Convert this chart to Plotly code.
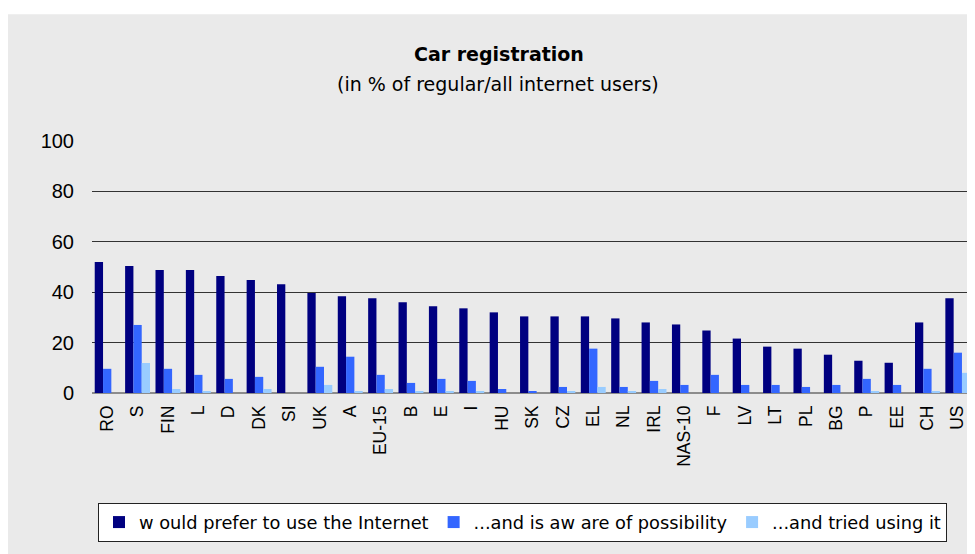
import plotly.graph_objects as go

categories = ["RO", "S", "FIN", "L", "D", "DK", "SI", "UK", "A", "EU-15", "B", "E", "I", "HU", "SK",
              "CZ", "EL", "NL", "IRL", "NAS-10", "F", "LV", "LT", "PL", "BG", "P", "EE", "CH", "US"]
would_prefer = [52, 50.4, 48.8, 48.8, 46.4, 44.8, 43.2, 39.7, 38.4, 37.6, 36, 34.4, 33.6, 32, 30.4,
                30.4, 30.4, 29.6, 28, 27.2, 24.8, 21.6, 18.4, 17.6, 15.2, 12.8, 12, 28, 37.6]
aware = [9.6, 27, 9.6, 7.2, 5.6, 6.4, 0, 10.4, 14.4, 7.2, 4, 5.6, 4.8, 1.6, 0.8,
         2.4, 17.6, 2.4, 4.8, 3.2, 7.2, 3.2, 3.2, 2.4, 3.2, 5.6, 3.2, 9.6, 16]
tried = [0, 11.9, 1.6, 0.8, 0, 1.6, 0, 3.2, 0.8, 1.6, 0.8, 0.8, 0.8, 0, 0,
         0.8, 2.4, 0.8, 1.6, 0, 0, 0, 0, 0, 0, 0.8, 0, 0.8, 8]
series_names = ["w ould prefer to use the Internet", "...and is aw are of possibility", "...and tried using it"]
series_colors = ["#000080", "#3366FF", "#99CCFF"]
y_ticks = [0, 20, 40, 60, 80, 100]

# page is rendered with an 8px body margin; work in page pixels and convert
OFF = 8
PAGE_W, PAGE_H = 975, 554
W, H = PAGE_W - OFF, PAGE_H - OFF
plot_left, plot_right, plot_top, plot_bottom = 92, 973, 141, 393.5  # page pixels
L = plot_left - OFF
R = PAGE_W - plot_right
T = plot_top - OFF
B = PAGE_H - plot_bottom
pw, ph = W - L - R, H - T - B


def px_x(p):
    return (p - OFF - L) / pw


def px_y(p):
    return (H - B - (p - OFF)) / ph


fig = go.Figure()
for name, vals, col in zip(series_names, [would_prefer, aware, tried], series_colors):
    fig.add_trace(go.Bar(x=categories, y=vals, name=name, marker=dict(color=col, line=dict(width=0))))

fig.add_shape(type="rect", xref="paper", yref="paper",
              x0=px_x(0), x1=px_x(PAGE_W + 5), y0=px_y(PAGE_H + 5), y1=px_y(14),
              fillcolor="#EAEAEA", line=dict(width=0), layer="below")

fig.add_annotation(text="<b>Car registration</b>", xref="paper", yref="paper",
                   x=px_x(499), y=px_y(54), xanchor="center", yanchor="middle", showarrow=False,
                   font=dict(family="DejaVu Sans", size=19, color="black"))
fig.add_annotation(text="(in % of regular/all internet users)", xref="paper", yref="paper",
                   x=px_x(498), y=px_y(84), xanchor="center", yanchor="middle", showarrow=False,
                   font=dict(family="DejaVu Sans", size=19, color="black"))

fig.update_layout(
    width=W, height=H,
    margin=dict(l=L, r=R, t=T, b=B, pad=0),
    paper_bgcolor="white", plot_bgcolor="rgba(0,0,0,0)",
    barmode="group", bargap=0.18, bargroupgap=0,
    showlegend=True,
    legend=dict(orientation="h", xref="container", yref="container",
                x=(98 - OFF) / W, y=1 - (503 - OFF) / H, xanchor="left", yanchor="top",
                bgcolor="white", bordercolor="#222222", borderwidth=1,
                font=dict(family="DejaVu Sans", size=17.8, color="black")),
    xaxis=dict(type="category", range=[-0.5, 28.5], showgrid=False, zeroline=False,
               showline=False, tickangle=-90, ticks="", ticklabelstandoff=8,
               tickfont=dict(family="Liberation Sans", size=17.5, color="black")),
    yaxis=dict(range=[0, 100], tickvals=y_ticks, showgrid=True, gridcolor="#333333", gridwidth=1,
               zeroline=True, zerolinecolor="#8C8C8C", zerolinewidth=2, showline=False,
               ticks="", ticklabelstandoff=17,
               tickfont=dict(family="Liberation Sans", size=20, color="black")),
)

fig.write_html("out.html")
